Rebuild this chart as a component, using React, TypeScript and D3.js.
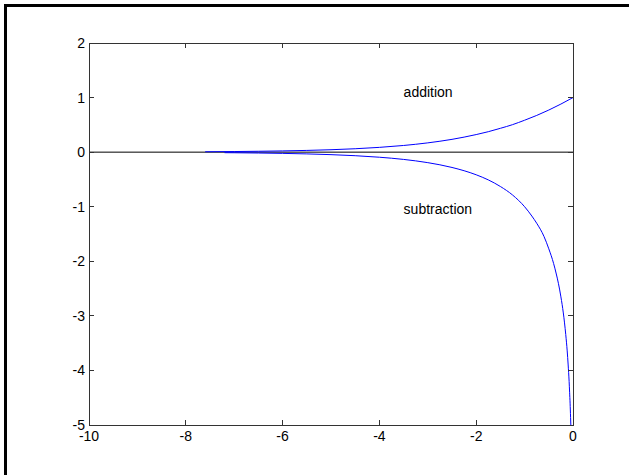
import React, { useEffect, useRef } from "react";
import * as d3 from "d3";

// values
const addX = [-7.6, -7, -6.5, -6, -5.5, -5, -4.5, -4, -3.5, -3, -2.5, -2, -1.75, -1.5, -1.25, -1, -0.75, -0.5, -0.25, 0];
const addY = [0.0072, 0.0112, 0.0159, 0.0224, 0.0316, 0.0444, 0.0624, 0.0875, 0.1223, 0.1699, 0.2345, 0.3219, 0.3747, 0.4368, 0.5036, 0.585, 0.6727, 0.7716, 0.8808, 1];
const subX = [-7.2, -7, -6.5, -6, -5.5, -5, -4.5, -4, -3.5, -3, -2.5, -2, -1.75, -1.5, -1.25, -1, -0.85, -0.75, -0.6, -0.5, -0.4, -0.35, -0.3, -0.25, -0.2, -0.15, -0.12, -0.1, -0.08, -0.07, -0.06, -0.05, -0.045];
const subY = [-0.0099, -0.0113, -0.016, -0.0227, -0.0322, -0.0458, -0.0651, -0.0931, -0.1332, -0.1926, -0.2808, -0.415, -0.5086, -0.6297, -0.7846, -1, -1.1715, -1.3026, -1.5436, -1.7716, -2.0425, -2.215, -2.4107, -2.652, -2.9465, -3.341, -3.642, -3.9, -4.204, -4.4, -4.6, -4.86, -5.0];
const xTicks = [-10, -8, -6, -4, -2, 0];
const yTicks = [2, 1, 0, -1, -2, -3, -4, -5];
const notes = [
  { text: "addition", x: -3.5, y: 1.1 },
  { text: "subtraction", x: -3.5, y: -1.05 },
];

const W = 629;
const H = 475;

export default function App() {
  const ref = useRef<SVGSVGElement>(null);

  useEffect(() => {
    const svg = d3.select(ref.current);
    svg.selectAll("*").remove();

    const x = d3.scaleLinear().domain([-10, 0]).range([89, 573]);
    const y = d3.scaleLinear().domain([-5, 2]).range([425, 43]);
    const font = "Arial, 'Liberation Sans', sans-serif";

    // figure frame (only top and left visible)
    svg.append("line").attr("x1", 4).attr("x2", W).attr("y1", 5.5).attr("y2", 5.5)
      .attr("stroke", "#000").attr("stroke-width", 3);
    svg.append("line").attr("x1", 5.5).attr("x2", 5.5).attr("y1", 4).attr("y2", H)
      .attr("stroke", "#000").attr("stroke-width", 3);

    // zero line
    svg.append("line").attr("x1", x(-10)).attr("x2", x(0)).attr("y1", y(0)).attr("y2", y(0))
      .attr("stroke", "#000").attr("stroke-width", 1);

    const line = d3.line<[number, number]>().x((d) => x(d[0])).y((d) => y(d[1]));
    const add = addX.map((v, i) => [v, addY[i]] as [number, number]);
    const sub = subX.map((v, i) => [v, subY[i]] as [number, number]);
    [add, sub].forEach((s) => {
      svg.append("path").attr("d", line.curve(d3.curveMonotoneX)(s) || "")
        .attr("fill", "none").attr("stroke", "#0000ff").attr("stroke-width", 1);
    });

    // box and ticks
    const g = svg.append("g").attr("stroke", "#333").attr("stroke-width", 1).attr("shape-rendering", "crispEdges");
    g.append("rect").attr("x", x(-10)).attr("y", y(2)).attr("width", x(0) - x(-10)).attr("height", y(-5) - y(2))
      .attr("fill", "none");
    xTicks.forEach((t) => {
      g.append("line").attr("x1", x(t)).attr("x2", x(t)).attr("y1", y(-5)).attr("y2", y(-5) - 5);
      g.append("line").attr("x1", x(t)).attr("x2", x(t)).attr("y1", y(2)).attr("y2", y(2) + 5);
    });
    yTicks.forEach((t) => {
      g.append("line").attr("x1", x(-10)).attr("x2", x(-10) + 5).attr("y1", y(t)).attr("y2", y(t));
      g.append("line").attr("x1", x(0)).attr("x2", x(0) - 5).attr("y1", y(t)).attr("y2", y(t));
    });

    svg.selectAll(".xt").data(xTicks).enter().append("text")
      .attr("x", (d) => x(d)).attr("y", y(-5) + 16).attr("text-anchor", "middle")
      .attr("font-family", font).attr("font-size", 14).attr("fill", "#000")
      .text((d) => String(d));
    svg.selectAll(".yt").data(yTicks).enter().append("text")
      .attr("x", x(-10) - 4).attr("y", (d) => y(d) + 5).attr("text-anchor", "end")
      .attr("font-family", font).attr("font-size", 14).attr("fill", "#000")
      .text((d) => String(d));

    svg.selectAll(".note").data(notes).enter().append("text")
      .attr("x", (d) => x(d.x)).attr("y", (d) => y(d.y) + 5)
      .attr("font-family", font).attr("font-size", 14).attr("fill", "#000")
      .text((d) => d.text);
  }, []);

  return (
    <svg
      ref={ref}
      width={W}
      height={H}
      style={{ position: "absolute", left: 0, top: 0, background: "#fff" }}
    />
  );
}
